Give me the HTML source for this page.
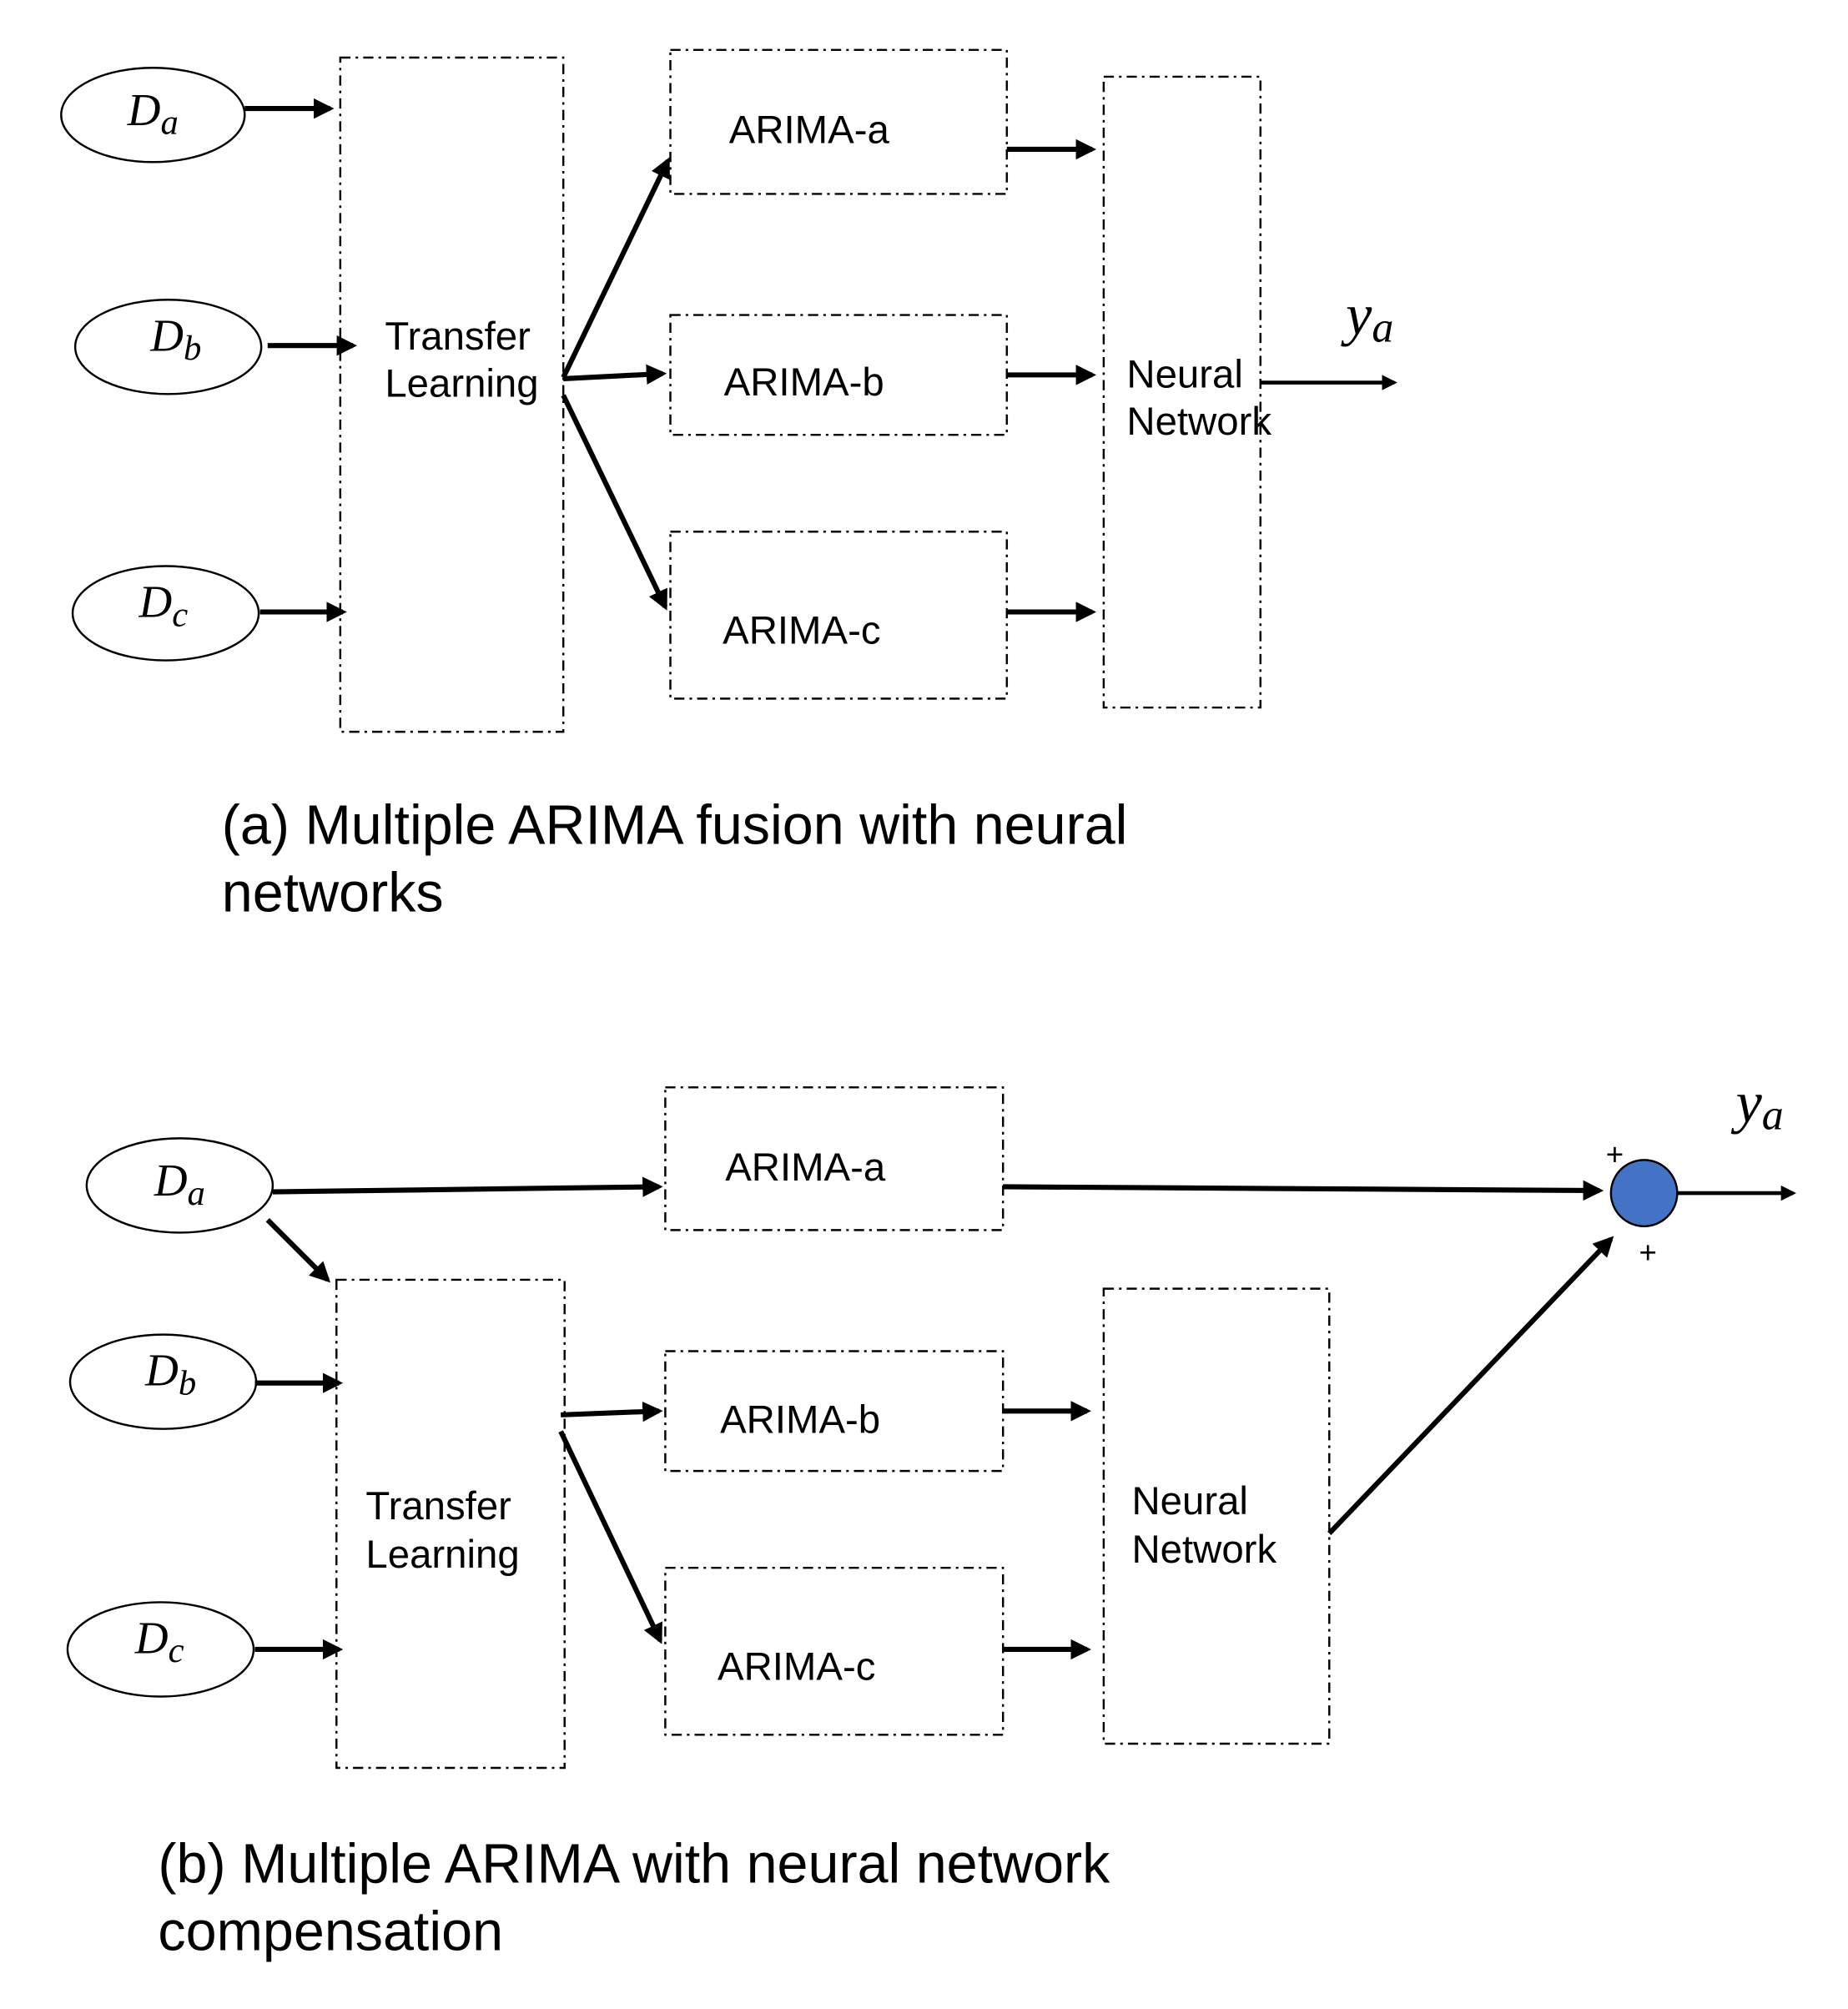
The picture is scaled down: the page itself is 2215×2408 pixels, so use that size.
<!DOCTYPE html>
<html><head><meta charset="utf-8"><style>
html,body{margin:0;padding:0;background:#fff;}
svg{display:block;}
text{font-family:"Liberation Sans",sans-serif;fill:#000;}
.m text{font-family:"Liberation Serif",serif;font-style:italic;}
</style></head><body>
<svg width="2215" height="2408" viewBox="0 0 1450 1576" xmlns="http://www.w3.org/2000/svg">
<defs>
<marker id="ah" markerWidth="4" markerHeight="4" refX="3.2" refY="2" orient="auto" markerUnits="strokeWidth">
<path d="M0,0 L4,2 L0,4 z" fill="#000"/></marker>
</defs>
<g fill="none" stroke="#000" stroke-width="1.6" stroke-dasharray="8,4,2,4">
<rect x="267" y="45" width="175" height="529"/>
<rect x="526" y="39" width="264" height="113"/>
<rect x="526" y="247" width="264" height="94"/>
<rect x="526" y="417" width="264" height="131"/>
<rect x="866" y="60" width="123" height="495"/>
<rect x="522" y="853" width="265" height="112"/>
<rect x="264" y="1004" width="179" height="383"/>
<rect x="522" y="1060" width="265" height="94"/>
<rect x="522" y="1230" width="265" height="131"/>
<rect x="866" y="1011" width="177" height="357"/>
</g>
<g fill="#fff" stroke="#000" stroke-width="1.6">
<ellipse cx="120" cy="90" rx="72" ry="37"/>
<ellipse cx="132" cy="272" rx="73" ry="37"/>
<ellipse cx="130" cy="481" rx="73" ry="37"/>
<ellipse cx="141" cy="930" rx="73" ry="37"/>
<ellipse cx="128" cy="1084" rx="73" ry="37"/>
<ellipse cx="126" cy="1294" rx="73" ry="37"/>
</g>
<g stroke="#000" stroke-width="4" fill="none" marker-end="url(#ah)">
<line x1="192" y1="85" x2="259" y2="85"/>
<line x1="210" y1="271" x2="277" y2="271"/>
<line x1="204" y1="480" x2="269" y2="480"/>
<line x1="442" y1="296" x2="524" y2="126"/>
<line x1="442" y1="297" x2="520" y2="293"/>
<line x1="442" y1="310" x2="522" y2="476"/>
<line x1="790" y1="117" x2="857" y2="117"/>
<line x1="790" y1="294" x2="857" y2="294"/>
<line x1="790" y1="480" x2="857" y2="480"/>
<line x1="214" y1="935" x2="517" y2="931"/>
<line x1="210" y1="957" x2="257" y2="1004"/>
<line x1="200" y1="1085" x2="266" y2="1085"/>
<line x1="200" y1="1294" x2="266" y2="1294"/>
<line x1="440" y1="1110" x2="517" y2="1107"/>
<line x1="440" y1="1123" x2="518" y2="1287"/>
<line x1="787" y1="1107" x2="853" y2="1107"/>
<line x1="787" y1="1294" x2="853" y2="1294"/>
<line x1="787" y1="931" x2="1255" y2="934"/>
<line x1="1043" y1="1203" x2="1264" y2="972"/>
</g>
<g stroke="#000" stroke-width="3" fill="none" marker-end="url(#ah)">
<line x1="989" y1="300" x2="1094" y2="300"/>
<line x1="1300" y1="936" x2="1407" y2="936"/>
</g>
<circle cx="1290" cy="936" r="26" fill="#4472c4" stroke="#000" stroke-width="1.6"/>
<text x="1260" y="914" font-size="24">+</text>
<text x="1286" y="991" font-size="24">+</text>
<g font-size="31">
<text x="572" y="112">ARIMA-a</text>
<text x="568" y="310">ARIMA-b</text>
<text x="567" y="505">ARIMA-c</text>
<text x="302" y="274">Transfer</text>
<text x="302" y="311">Learning</text>
<text x="884" y="304">Neural</text>
<text x="884" y="341">Network</text>
<text x="569" y="926">ARIMA-a</text>
<text x="565" y="1124">ARIMA-b</text>
<text x="563" y="1318">ARIMA-c</text>
<text x="287" y="1192">Transfer</text>
<text x="287" y="1230">Learning</text>
<text x="888" y="1188">Neural</text>
<text x="888" y="1226">Network</text>
</g>
<g font-size="43.5">
<text x="174" y="662">(a) Multiple ARIMA fusion with neural</text>
<text x="174" y="715">networks</text>
<text x="124" y="1477">(b) Multiple ARIMA with neural network</text>
<text x="124" y="1530">compensation</text>
</g>
<g class="m">
<text x="100" y="98" font-size="36">D<tspan font-size="28" dy="7">a</tspan></text>
<text x="118" y="275" font-size="36">D<tspan font-size="28" dy="7">b</tspan></text>
<text x="109" y="484" font-size="36">D<tspan font-size="28" dy="7">c</tspan></text>
<text x="121" y="938" font-size="36">D<tspan font-size="28" dy="7">a</tspan></text>
<text x="114" y="1087" font-size="36">D<tspan font-size="28" dy="7">b</tspan></text>
<text x="106" y="1297" font-size="36">D<tspan font-size="28" dy="7">c</tspan></text>
<text x="1056" y="262" font-size="46">y<tspan font-size="34" dy="6">a</tspan></text>
<text x="1362" y="880" font-size="46">y<tspan font-size="34" dy="6">a</tspan></text>
</g>
</svg>
</body></html>
